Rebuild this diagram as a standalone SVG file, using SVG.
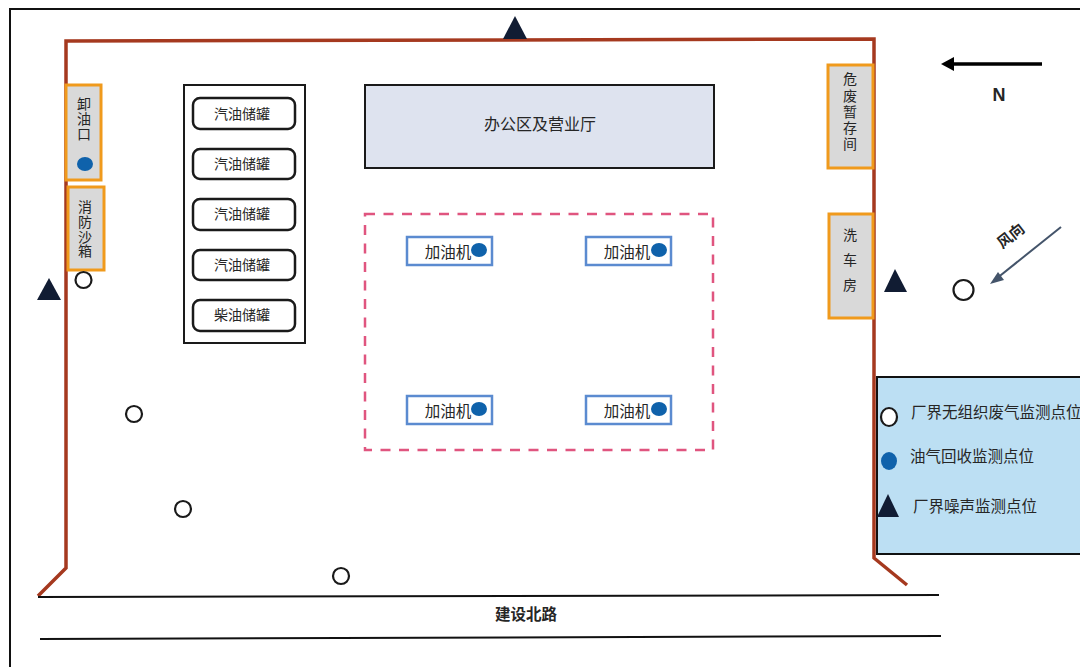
<svg xmlns="http://www.w3.org/2000/svg" width="1080" height="667" viewBox="0 0 1080 667">
<style>
text{font-family:"Noto Sans CJK SC","Liberation Sans",sans-serif;fill:#262626}
.wall{fill:none;stroke:#a5391f;stroke-width:3.5}
.road{fill:none;stroke:#111;stroke-width:2}
.room{fill:#d9d9d9;stroke:#f09a1c;stroke-width:3}
.rv{font-size:14px;writing-mode:vertical-rl}
.tank{fill:#fff;stroke:#1a1a1a;stroke-width:2.5}
.tt{font-size:14px;text-anchor:middle}
.disp{fill:#fff;stroke:#5b8bd0;stroke-width:2.5}
.pt{font-size:15.5px;text-anchor:middle}
.dot{fill:#0f62ab}
.ring{fill:#fff;stroke:#1a1a1a;stroke-width:2.2}
.tri{fill:#111c33}
.lg{font-size:15.5px}
</style>
<rect x="0" y="0" width="1080" height="667" fill="#fff"/>
<path d="M10 667V9H1080" fill="none" stroke="#111" stroke-width="2"/>
<g id="connectors">
<path id="boundary" class="wall" d="M38 596L66 568V41L874 39V558L907 585"/>
<path class="road" d="M38 597L939 595"/>
<path class="road" d="M40 639L941 636"/>
<path d="M1042 64H950" fill="none" stroke="#000" stroke-width="3.5"/>
<path d="M941 64L954 57V71Z" fill="#000"/>
<path d="M1061 227L996 279" fill="none" stroke="#44546a" stroke-width="2"/>
<path d="M990 284L998 272L1004 280Z" fill="#44546a"/>
</g>
<g id="unload"><rect class="room" x="66" y="85" width="35" height="95"/><text class="rv" x="84" y="97" letter-spacing="1">卸油口</text><ellipse class="dot" cx="85" cy="164" rx="8" ry="7"/></g>
<g id="sandbox"><rect class="room" x="68" y="187" width="36" height="83"/><text class="rv" x="85" y="200" letter-spacing="0.700">消防沙箱</text></g>
<g id="hazard"><rect class="room" x="828" y="65" width="45" height="103"/><text class="rv" x="850" y="72" letter-spacing="2.200">危废暂存间</text></g>
<g id="carwash"><rect class="room" x="829" y="214" width="44" height="104"/><text class="rv" x="850" y="228" letter-spacing="11">洗车房</text></g>
<g id="tankyard"><rect x="184" y="85" width="121" height="258" fill="#fff" stroke="#1a1a1a" stroke-width="2"/></g>
<g id="tank1"><rect class="tank" x="193" y="98" width="102" height="31" rx="7"/><text class="tt" x="242" y="119">汽油储罐</text></g>
<g id="tank2"><rect class="tank" x="193" y="149" width="102" height="30" rx="7"/><text class="tt" x="242" y="169">汽油储罐</text></g>
<g id="tank3"><rect class="tank" x="193" y="199" width="102" height="31" rx="7"/><text class="tt" x="242" y="219">汽油储罐</text></g>
<g id="tank4"><rect class="tank" x="193" y="250" width="102" height="30" rx="7"/><text class="tt" x="242" y="270">汽油储罐</text></g>
<g id="tank5"><rect class="tank" x="193" y="300" width="102" height="31" rx="7"/><text class="tt" x="242" y="320">柴油储罐</text></g>
<g id="office"><rect x="365" y="85" width="349" height="83" fill="#dee3ef" stroke="#1a1a1a" stroke-width="2"/><text x="540" y="130" font-size="16" text-anchor="middle">办公区及营业厅</text></g>
<g id="forecourt"><rect x="365" y="214" width="348" height="236" fill="none" stroke="#e0557f" stroke-width="2.5" stroke-dasharray="10 8.5"/></g>
<g id="pump1"><rect class="disp" x="407" y="237" width="85" height="28"/><text class="pt" x="448" y="258">加油机</text><ellipse class="dot" cx="479" cy="250" rx="8" ry="7"/></g>
<g id="pump2"><rect class="disp" x="586" y="237" width="85" height="28"/><text class="pt" x="627" y="258">加油机</text><ellipse class="dot" cx="659" cy="250" rx="8" ry="7"/></g>
<g id="pump3"><rect class="disp" x="407" y="396" width="85" height="28"/><text class="pt" x="448" y="417">加油机</text><ellipse class="dot" cx="479" cy="409" rx="8" ry="7"/></g>
<g id="pump4"><rect class="disp" x="586" y="396" width="85" height="28"/><text class="pt" x="627" y="417">加油机</text><ellipse class="dot" cx="659" cy="409" rx="8" ry="7"/></g>
<g id="legend"><rect x="877" y="377" width="210" height="177" fill="#bcdff3" stroke="#111" stroke-width="2"/>
<ellipse class="ring" cx="889" cy="417" rx="8" ry="9"/><text class="lg" x="911" y="418">厂界无组织废气监测点位</text>
<ellipse class="dot" cx="889" cy="461" rx="8" ry="9"/><text class="lg" x="910" y="462">油气回收监测点位</text>
<path class="tri" d="M888 494L899 517H877Z"/><text class="lg" x="913" y="512">厂界噪声监测点位</text></g>
<g id="markers">
<path class="tri" d="M515 16L527 39H503Z"/>
<path class="tri" d="M49 278L61 300H37Z"/>
<path class="tri" d="M895 269L907 292H884Z"/>
<circle class="ring" cx="83.500" cy="280" r="8"/>
<circle class="ring" cx="134" cy="414" r="8"/>
<circle class="ring" cx="183" cy="509" r="8"/>
<circle class="ring" cx="341" cy="576" r="8"/>
<circle class="ring" cx="963.500" cy="290" r="10"/>
</g>
<text x="999" y="101" font-size="18" font-weight="700" text-anchor="middle" style="font-family:'Liberation Sans',sans-serif">N</text>
<text transform="translate(1011 236) rotate(-38)" font-size="15" font-weight="700" text-anchor="middle" x="0" y="5">风向</text>
<text x="526" y="620" font-size="15.500" font-weight="700" text-anchor="middle">建设北路</text>
</svg>
